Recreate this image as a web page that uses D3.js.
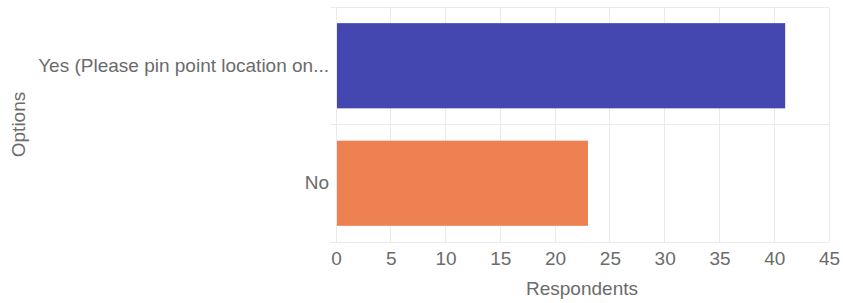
<!DOCTYPE html>
<html><head><meta charset="utf-8">
<script src="https://cdn.jsdelivr.net/npm/d3@7"></script>
<style>body{margin:0;background:#fff;} text{font-family:"Liberation Sans",Arial,sans-serif;}</style>
</head><body>
<svg id="c" width="843" height="303"></svg>
<script>
const categories = ["Yes (Please pin point location on...", "No"];
const values = [41, 23];
const colors = ["#4447b0", "#ee8152"];
const xTicks = [0,5,10,15,20,25,30,35,40,45];
const xTitle = "Respondents";
const yTitle = "Options";

const svg = d3.select("#c");
const m = {l:336, r:14, t:7, b:61};
const W = 843, H = 303;
const x = d3.scaleLinear().domain([0,45]).range([m.l, W-m.r]);
const y = d3.scaleBand().domain(categories).range([m.t, H-m.b]).paddingInner(0).paddingOuter(0);
const grid = "#ebebeb";
const fs = 19;
const tc = "#6b6b6b";

svg.append("g").selectAll("line").data(xTicks).join("line")
  .attr("x1", d=>x(d)).attr("x2", d=>x(d))
  .attr("y1", m.t).attr("y2", H-m.b)
  .attr("stroke", grid).attr("stroke-width", 1).attr("shape-rendering","crispEdges");
const bounds = [m.t, ...categories.map(c=>y(c)+y.bandwidth())];
svg.append("g").selectAll("line").data(bounds).join("line")
  .attr("x1", m.l-6).attr("x2", x(45))
  .attr("y1", d=>d).attr("y2", d=>d)
  .attr("stroke", grid).attr("stroke-width", 1).attr("shape-rendering","crispEdges");

const bh = y.bandwidth()*0.725;
svg.append("g").selectAll("rect").data(categories).join("rect")
  .attr("x", x(0)+1)
  .attr("y", d=>y(d)+(y.bandwidth()-bh)/2)
  .attr("width", (d,i)=>x(values[i])-x(0)-1)
  .attr("height", bh)
  .attr("fill", (d,i)=>colors[i]);

const xa = svg.append("g").attr("transform", `translate(0,${H-m.b})`)
  .call(d3.axisBottom(x).tickValues(xTicks).tickSize(0).tickPadding(10));
xa.select(".domain").remove();
xa.selectAll("text").attr("font-size", fs).attr("fill", tc);

const ya = svg.append("g").attr("transform", `translate(${m.l},0)`)
  .call(d3.axisLeft(y).tickSize(0).tickPadding(7));
ya.select(".domain").remove();
ya.selectAll("text").attr("font-size", fs).attr("fill", tc);

svg.append("text").attr("x", (x(0)+x(45))/2 - 0.5).attr("y", 295)
  .attr("text-anchor","middle").attr("font-size", fs).attr("fill",tc).text(xTitle);
svg.append("text").attr("transform", `translate(25,${(m.t+H-m.b)/2}) rotate(-90)`)
  .attr("text-anchor","middle").attr("font-size", fs).attr("fill",tc).text(yTitle);
</script>
</body></html>
